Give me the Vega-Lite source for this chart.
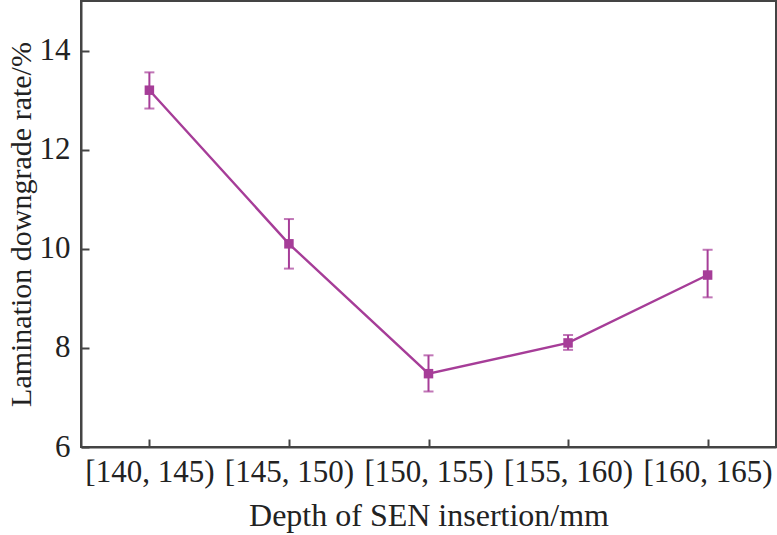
{
  "$schema": "https://vega.github.io/schema/vega-lite/v6.json",
  "autosize": {"type": "none"},
  "padding": {"left": 81, "top": 1, "right": 1, "bottom": 88},
  "width": 695,
  "height": 446,
  "background": "white",
  "config": {
    "font": "Liberation Serif",
    "view": {"stroke": "#444", "strokeWidth": 2},
    "axis": {
      "grid": false,
      "domainColor": "#444",
      "domainWidth": 2,
      "tickColor": "#444",
      "tickWidth": 2,
      "labelFont": "Liberation Serif",
      "labelFontSize": 31,
      "labelColor": "#222",
      "titleFont": "Liberation Serif",
      "titleFontSize": 32,
      "titleFontWeight": "normal",
      "titleColor": "#222"
    }
  },
  "data": {
    "values": [
      {"depth": "[140, 145)", "rate": 13.2, "lo": 12.83, "hi": 13.56},
      {"depth": "[145, 150)", "rate": 10.1, "lo": 9.6, "hi": 10.6},
      {"depth": "[150, 155)", "rate": 7.48, "lo": 7.12, "hi": 7.85},
      {"depth": "[155, 160)", "rate": 8.1, "lo": 7.96, "hi": 8.26},
      {"depth": "[160, 165)", "rate": 9.47, "lo": 9.02, "hi": 9.98}
    ]
  },
  "encoding": {
    "x": {
      "field": "depth",
      "type": "ordinal",
      "sort": null,
      "scale": {"type": "point", "padding": 0.49},
      "axis": {
        "title": "Depth of SEN insertion/mm",
        "labelAngle": 0,
        "tickSize": -8,
        "labelPadding": 18,
        "titlePadding": 13
      }
    }
  },
  "layer": [
    {
      "mark": {"type": "line", "color": "#a63d98", "strokeWidth": 2.4},
      "encoding": {
        "y": {
          "field": "rate",
          "type": "quantitative",
          "title": "Lamination downgrade rate/%",
          "scale": {"domain": [6, 15], "nice": false, "zero": false},
          "axis": {
            "values": [6, 8, 10, 12, 14],
            "tickSize": -8,
            "labelPadding": 19,
            "titlePadding": 3,
            "titleFontSize": 30
          }
        }
      }
    },
    {
      "mark": {"type": "errorbar", "color": "#a63d98", "thickness": 2, "ticks": {"size": 10, "thickness": 2, "color": "#a63d98"}},
      "encoding": {
        "y": {"field": "lo", "type": "quantitative", "title": "Lamination downgrade rate/%"},
        "y2": {"field": "hi"}
      }
    },
    {
      "mark": {"type": "square", "color": "#a63d98", "opacity": 1, "size": 90},
      "encoding": {
        "y": {"field": "rate", "type": "quantitative", "title": "Lamination downgrade rate/%"}
      }
    }
  ]
}
